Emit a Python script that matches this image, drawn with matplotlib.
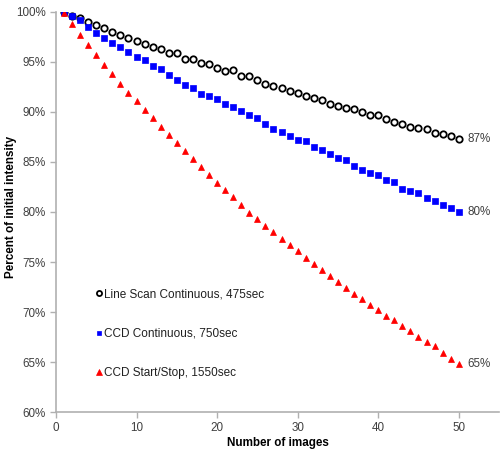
import numpy as np
import matplotlib
matplotlib.use("Agg")
import matplotlib.pyplot as plt
from matplotlib.ticker import FuncFormatter

plt.rcParams['font.family'] = ['Liberation Sans', 'DejaVu Sans']

images = list(range(1, 51))
line_scan = [100.0, 99.6, 99.37, 98.97, 98.67, 98.37, 97.97, 97.67, 97.4, 97.07,
             96.77, 96.47, 96.3, 95.87, 95.9, 95.33, 95.27, 94.93, 94.77, 94.43,
             94.1, 94.17, 93.6, 93.6, 93.2, 92.8, 92.6, 92.37, 92.13, 91.9,
             91.57, 91.4, 91.17, 90.8, 90.63, 90.43, 90.27, 90.03, 89.67, 89.7,
             89.33, 89.0, 88.8, 88.47, 88.43, 88.33, 87.87, 87.8, 87.6, 87.33]
ccd_cont = [100.0, 99.6, 99.17, 98.5, 97.93, 97.4, 96.87, 96.47, 95.97, 95.53,
            95.17, 94.63, 94.3, 93.67, 93.17, 92.73, 92.37, 91.77, 91.57, 91.27,
            90.77, 90.53, 90.1, 89.67, 89.37, 88.83, 88.33, 88.03, 87.57, 87.17,
            87.1, 86.53, 86.17, 85.77, 85.37, 85.23, 84.63, 84.2, 83.93, 83.73,
            83.17, 83.0, 82.3, 82.05, 81.9, 81.35, 81.1, 80.73, 80.37, 80.0]
ccd_ss = [99.93, 98.77, 97.73, 96.7, 95.7, 94.73, 93.8, 92.83, 91.93, 91.07,
          90.23, 89.37, 88.53, 87.7, 86.87, 86.07, 85.27, 84.5, 83.7, 82.9,
          82.17, 81.47, 80.7, 79.93, 79.3, 78.63, 78.0, 77.33, 76.7, 76.1,
          75.43, 74.83, 74.17, 73.57, 73.03, 72.4, 71.8, 71.27, 70.7, 70.2,
          69.6, 69.17, 68.63, 68.1, 67.5, 67.0, 66.57, 65.93, 65.33, 64.83]
series_names = ["Line Scan Continuous, 475sec", "CCD Continuous, 750sec", "CCD Start/Stop, 1550sec"]
end_labels = ["87%", "80%", "65%"]

fig = plt.figure(figsize=(5, 4.5), dpi=100)
ax = fig.add_axes([0.112, 0.0844, 0.886, 0.889])

ax.plot(images, np.array(line_scan) / 100, linestyle='none', marker='o', ms=4.6,
        mfc='none', mec='black', mew=1.3, label=series_names[0])
ax.plot(images, np.array(ccd_cont) / 100, linestyle='none', marker='s', ms=4.3,
        mfc='#0000ff', mec='#0000ff', mew=0.5, label=series_names[1])
ax.plot(images, np.array(ccd_ss) / 100, linestyle='none', marker='^', ms=4.8,
        mfc='#ff0000', mec='#ff0000', mew=0.5, label=series_names[2])

for vals, lab in zip([line_scan, ccd_cont, ccd_ss], end_labels):
    ax.annotate(lab, (images[-1], vals[-1] / 100), xytext=(6, 0), textcoords='offset points',
                va='center', ha='left', fontsize=8.4, color='#404040')

ax.set_xlim(0, 55)
ax.set_ylim(0.6, 1.0)
ax.set_xticks([0, 10, 20, 30, 40, 50])
ax.set_yticks(np.arange(0.60, 1.001, 0.05))
ax.yaxis.set_major_formatter(FuncFormatter(lambda v, p: f"{v*100:.0f}%"))

for s in ['top', 'right']:
    ax.spines[s].set_visible(False)
for s in ['left', 'bottom']:
    ax.spines[s].set_color('#b0b0b0')
    ax.spines[s].set_linewidth(1.2)
ax.tick_params(axis='both', direction='out', length=4, color='#b0b0b0',
               labelsize=8.4, labelcolor='#404040', width=1)

ax.set_xlabel("Number of images", fontsize=8.4, fontweight='bold', labelpad=2)
ax.set_ylabel("Percent of initial intensity", fontsize=8.4, fontweight='bold')
ax.yaxis.set_label_coords(-0.089, 0.512)

leg = ax.legend(loc='upper left', bbox_to_anchor=(0.092, 0.31), frameon=False,
                fontsize=8.5, labelspacing=2.35, handlelength=0.4, handletextpad=0.2,
                numpoints=1, borderaxespad=0, borderpad=0, markerscale=0.8)
for t in leg.get_texts():
    t.set_color('#202020')

fig.savefig("out.png", dpi=100)
